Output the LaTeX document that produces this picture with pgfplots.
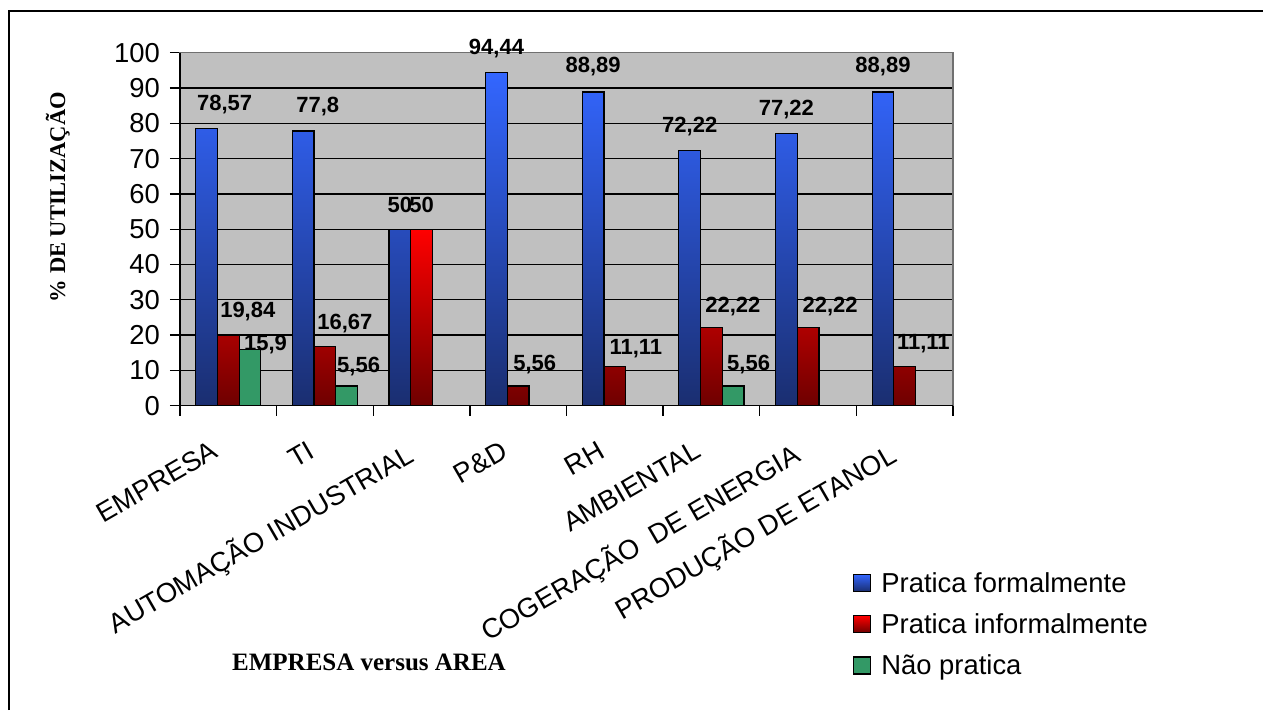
\documentclass[border=0pt]{standalone}
\usepackage{pgfplots}
\pgfplotsset{compat=1.18}
\usepackage{pgfplotstable}
\usepackage{fontspec}
\setmainfont{Liberation Sans}
\newfontfamily\tnr{Liberation Serif}
\definecolor{plotgray}{RGB}{192,192,192}
\definecolor{btop}{RGB}{51,102,255}
\definecolor{bmid}{RGB}{44,84,212}
\definecolor{bbot}{RGB}{26,46,112}
\definecolor{rtop}{RGB}{255,0,0}
\definecolor{rmid}{RGB}{205,0,0}
\definecolor{rbot}{RGB}{110,0,0}
\definecolor{gfill}{RGB}{51,153,102}
\definecolor{framegray}{RGB}{112,112,112}
\newcommand\tickfont{\fontsize{27.4}{32}\selectfont}
\newcommand\labfont{\fontsize{22}{26}\selectfont\bfseries}

\pgfplotstableread{
x y dx dy
0 78.57 18 24
1 77.8 14.5 24.5
2 50 0 24
3 94.44 0 24
4 88.89 0 25
5 72.22 0 24
6 77.22 0 24
7 88.89 0 25
}\tblue
\pgfplotstableread{
x y dx dy
0 19.84 19.5 24
1 16.67 20 23.6
2 50 0 24
3 5.56 16.6 22
4 11.11 21 18
5 22.22 21.5 20.6
6 22.22 22 20.6
7 11.11 18.7 22.5
}\tred
\pgfplotstableread{
x y dx dy
0 15.9 15.5 5.4
1 5.56 12 19.4
5 5.56 15.5 22
}\tgreen

\begin{document}
\begin{tikzpicture}
\path[use as bounding box] (-180pt,-304.3pt) rectangle (1083pt,405.7pt);
\draw[line width=2pt] (-171pt,-304.3pt) -- (-171pt,394.7pt) -- (1083pt,394.7pt);
\begin{axis}[
  at={(0pt,0pt)}, anchor=south west,
  scale only axis, width=773pt, height=353pt,
  xmin=-0.5, xmax=7.5, ymin=0, ymax=100,
  ybar=0pt, bar width=21.7pt,
  axis background/.style={fill=plotgray},
  axis line style={draw=framegray, line width=1.5pt},
  ymajorgrids, grid style={black, line width=1.3pt},
  ytick={0,10,...,100},
  xtick={0,...,7},
  xticklabels={EMPRESA,TI,AUTOMAÇÃO INDUSTRIAL,P\&D,RH,AMBIENTAL,COGERAÇÃO~ DE ENERGIA,PRODUÇÃO DE ETANOL},
  xtick style={draw=none},
  extra x ticks={-0.5,0.5,...,7.5},
  extra x tick labels={},
  extra x tick style={xtick style={draw=black, line width=1.3pt}},
  ytick style={draw=black, line width=1.3pt},
  tick align=outside, major tick length=10pt,
  xtick pos=bottom, ytick pos=left,
  /pgf/number format/assume math mode=true,
  /pgf/number format/use comma,
  tick label style={font=\tickfont},
  yticklabel style={inner sep=0pt, anchor=east, xshift=-10pt},
  xticklabel style={inner sep=0pt, xshift=-18pt, yshift=-24pt, rotate=30, anchor=north east},
  ylabel={\%\ DE UTILIZAÇÃO},
  ylabel style={font=\tnr\bfseries\fontsize{22.5}{26}\selectfont, at={(axis description cs:-0.158,0.591)}, anchor=center},
  xlabel={EMPRESA versus AREA},
  xlabel style={font=\tnr\bfseries\fontsize{25}{29}\selectfont, at={(axis description cs:0.2445,-0.726)}, anchor=center},
  nodes near coords={\pgfmathprintnumber[assume math mode=true,use comma]{\pgfplotspointmeta}},
  every node near coord/.append style={font=\labfont, inner sep=0pt, anchor=center, xshift=\dx pt, yshift=\dy pt},
  point meta=y,
  legend style={draw=none, fill=none, at={(axis description cs:0.8706,-0.471)}, anchor=north west, font=\tickfont, row sep=20pt, column sep=10pt, inner sep=0pt, nodes={inner sep=0pt}},
  legend cell align=left,
  after end axis/.code={\draw[black, line width=1.5pt] (rel axis cs:0,1) -- (rel axis cs:0,0) -- (rel axis cs:1,0);},
]
\addplot[draw=black, line width=1.2pt, top color=btop, middle color=bmid, bottom color=bbot,
  visualization depends on={\thisrow{dx} \as \dx},
  visualization depends on={\thisrow{dy} \as \dy},
  legend image code/.code={\draw[black, line width=1.2pt, top color=btop, bottom color=bbot] (0pt,-8.5pt) rectangle (17pt,8.5pt);}]
  table[x=x, y=y] {\tblue};
\addlegendentry{Pratica formalmente}
\addplot[draw=black, line width=1.2pt, top color=rtop, middle color=rmid, bottom color=rbot,
  visualization depends on={\thisrow{dx} \as \dx},
  visualization depends on={\thisrow{dy} \as \dy},
  legend image code/.code={\draw[black, line width=1.2pt, top color=rtop, bottom color=rbot] (0pt,-8.5pt) rectangle (17pt,8.5pt);}]
  table[x=x, y=y] {\tred};
\addlegendentry{Pratica informalmente}
\addplot[draw=black, line width=1.2pt, fill=gfill,
  visualization depends on={\thisrow{dx} \as \dx},
  visualization depends on={\thisrow{dy} \as \dy},
  legend image code/.code={\draw[black, line width=1.2pt, fill=gfill] (0pt,-8.5pt) rectangle (17pt,8.5pt);}]
  table[x=x, y=y] {\tgreen};
\addlegendentry{Não pratica}
\end{axis}
\end{tikzpicture}
\end{document}
